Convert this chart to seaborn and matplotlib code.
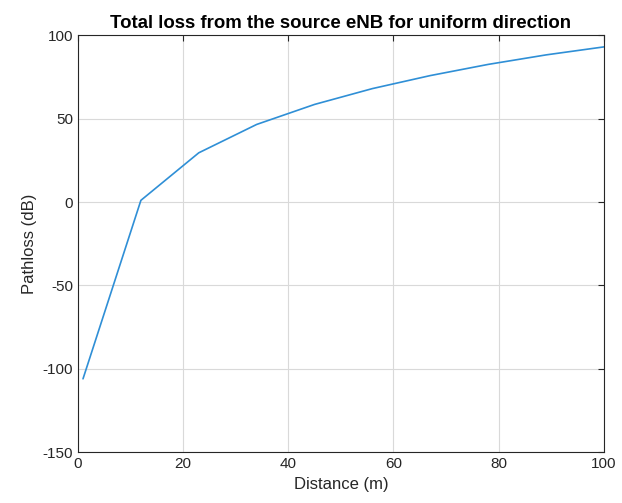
import seaborn as sns
import matplotlib.pyplot as plt
import pandas as pd

distance = [1, 12, 23, 34, 45, 56, 67, 78, 89, 100]
pathloss = [-106, 1, 29.5, 46.5, 58.5, 68, 75.8, 82.5, 88.2, 93]

df = pd.DataFrame({"Distance (m)": distance, "Pathloss (dB)": pathloss})

sns.set_style("white")
plt.rcParams['font.family'] = ['Liberation Sans', 'DejaVu Sans']
plt.rcParams['axes.unicode_minus'] = False

fig = plt.figure(figsize=(6.22, 5.03), dpi=100)
ax = fig.add_axes([0.125, 0.101, 0.846, 0.829])

sns.lineplot(data=df, x="Distance (m)", y="Pathloss (dB)", ax=ax,
             color="#2f8fd6", linewidth=1.2)

ax.set_xlim(0, 100)
ax.set_ylim(-150, 100)
ax.set_xticks([0, 20, 40, 60, 80, 100])
ax.set_yticks([-150, -100, -50, 0, 50, 100])
ax.grid(True, color="#d9d9d9", linewidth=0.8)
ax.tick_params(direction="in", length=4, colors="#262626", labelsize=11,
               top=True, right=True, width=0.8)
for s in ax.spines.values():
    s.set_color("#262626")
    s.set_linewidth(0.8)
    s.set_visible(True)

ax.set_xlabel("Distance (m)", fontsize=12, color="#262626")
ax.set_ylabel("Pathloss (dB)", fontsize=12, color="#262626")
ax.set_title("Total loss from the source eNB for uniform direction",
             fontsize=13.4, fontweight="bold", pad=5, color="black")

fig.savefig("out.png", dpi=100)
